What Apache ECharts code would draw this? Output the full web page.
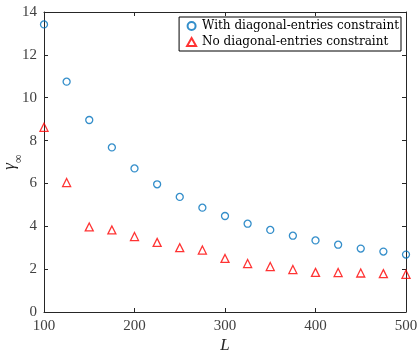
<!DOCTYPE html>
<html>
<head>
<meta charset="utf-8">
<script src="https://cdn.jsdelivr.net/npm/echarts@6/dist/echarts.min.js"></script>
<style>
  html, body { margin: 0; padding: 0; background: #fff; }
  #chart { width: 417px; height: 356px; }
</style>
</head>
<body>
<div id="chart"></div>
<script>
const L = [100, 125, 150, 175, 200, 225, 250, 275, 300, 325, 350, 375, 400, 425, 450, 475, 500];
const withDiag = [13.42, 10.75, 8.96, 7.68, 6.70, 5.96, 5.37, 4.87, 4.48, 4.12, 3.83, 3.56, 3.34, 3.14, 2.96, 2.82, 2.68];
const noDiag = [8.62, 6.04, 3.97, 3.83, 3.52, 3.25, 3.00, 2.89, 2.50, 2.26, 2.12, 1.98, 1.85, 1.84, 1.82, 1.79, 1.76];

const axisColor = "#262626";
const labelColor = "#404040";
const font = "'Liberation Serif', 'DejaVu Serif', serif";
const legendFont = "'DejaVu Serif', serif";

const chart = echarts.init(document.getElementById("chart"), null, { renderer: "canvas" });

const baseAxis = {
  axisLine: { show: true, onZero: false, lineStyle: { color: axisColor, width: 1 } },
  axisTick: { show: true, inside: true, length: 4, lineStyle: { color: axisColor } },
  splitLine: { show: false },
};

chart.setOption({
  animation: false,
  backgroundColor: "#fff",
  textStyle: { fontFamily: font },
  grid: { left: 44, right: 11, top: 12, bottom: 44, outerBoundsMode: "none", containLabel: false },
  legend: {
    orient: "vertical",
    right: 16,
    top: 17,
    padding: [3, 2, 3, 7],
    itemGap: 4,
    itemWidth: 9,
    itemHeight: 8,
    borderColor: "#000",
    borderWidth: 1,
    borderRadius: 0,
    textStyle: { fontFamily: legendFont, fontSize: 12, color: "#000", padding: [0, 0, 0, 1] },
    data: [
      { name: "With diagonal-entries constraint", icon: "circle" },
      { name: "No diagonal-entries constraint", icon: "triangle" },
    ],
  },
  xAxis: [
    Object.assign({}, baseAxis, {
      type: "value",
      min: 100, max: 500, interval: 100,
      name: "L",
      nameLocation: "middle",
      nameGap: 25,
      nameMoveOverlap: false,
      nameTextStyle: { fontFamily: font, fontStyle: "italic", fontSize: 17, color: axisColor },
      axisLabel: { color: labelColor, fontSize: 15, margin: 7, fontFamily: font },
    }),
    Object.assign({}, baseAxis, {
      type: "value", position: "top",
      min: 100, max: 500, interval: 100,
      axisLabel: { show: false },
    }),
  ],
  yAxis: [
    Object.assign({}, baseAxis, {
      type: "value",
      min: 0, max: 14, interval: 2,
      name: "{g|γ}{s|∞}",
      nameLocation: "middle",
      nameGap: 24,
      nameMoveOverlap: false,
      nameRotate: 90,
      nameTextStyle: {
        color: axisColor,
        rich: {
          g: { fontFamily: font, fontStyle: "italic", fontSize: 17, color: axisColor, lineHeight: 20 },
          s: { fontFamily: font, fontSize: 12, color: axisColor, lineHeight: 20, verticalAlign: "bottom", padding: [0, 0, -5, 0] },
        },
      },
      axisLabel: { color: labelColor, fontSize: 15, margin: 7, fontFamily: font },
    }),
    Object.assign({}, baseAxis, {
      type: "value", position: "right",
      min: 0, max: 14, interval: 2,
      axisLabel: { show: false },
    }),
  ],
  series: [
    {
      name: "With diagonal-entries constraint",
      type: "scatter",
      symbol: "circle",
      symbolSize: 7,
      itemStyle: { color: "rgba(255,255,255,0)", borderColor: "#0072BD", borderWidth: 1.3 },
      data: L.map((x, i) => [x, withDiag[i]]),
      clip: false,
    },
    {
      name: "No diagonal-entries constraint",
      type: "scatter",
      symbol: "triangle",
      symbolSize: 8,
      itemStyle: { color: "rgba(255,255,255,0)", borderColor: "#FF0000", borderWidth: 1.3 },
      data: L.map((x, i) => [x, noDiag[i]]),
      clip: false,
    },
  ],
});
</script>
</body>
</html>
